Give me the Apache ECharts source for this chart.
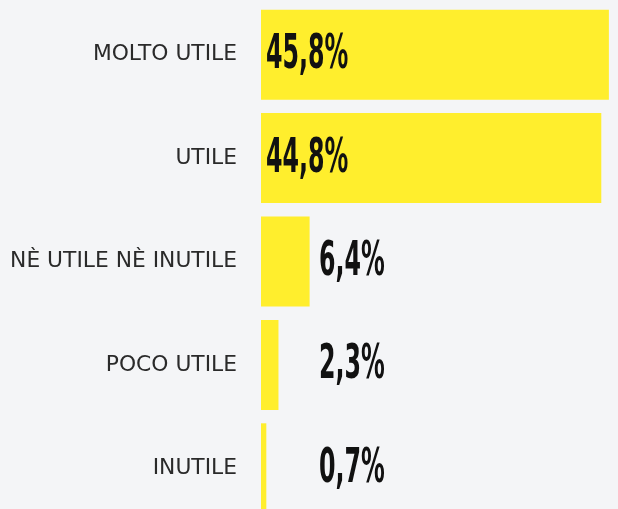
<!DOCTYPE html>
<html>
<head>
<meta charset="utf-8">
<script src="https://cdn.jsdelivr.net/npm/echarts@6/dist/echarts.min.js"></script>
<style>
  html, body { margin: 0; padding: 0; background: #f4f5f7; }
  #chart { width: 618px; height: 509px; }
</style>
</head>
<body>
<div id="chart"></div>
<script>
var categories = ['MOLTO UTILE', 'UTILE', 'NÈ UTILE NÈ INUTILE', 'POCO UTILE', 'INUTILE'];
var values = [45.8, 44.8, 6.4, 2.3, 0.7];
var valueLabels = ['45,8%', '44,8%', '6,4%', '2,3%', '0,7%'];

(function () {
    var el = document.getElementById('chart');
    var chart = echarts.init(el, null, { renderer: 'canvas' });

    // condensed value labels: drawn through a custom series so they can be squeezed
    function renderLabel(params, api) {
        var v = api.value(0);
        var idx = api.value(1);
        var start = api.coord([0, idx]);
        var x = start[0] + (v < 10 ? 58 : 5);
        return {
            type: 'text',
            x: x,
            y: start[1] + 1,
            scaleX: 0.55,
            style: {
                text: valueLabels[params.dataIndex],
                font: 'bold 48px "DejaVu Sans Condensed", "DejaVu Sans", sans-serif',
                fill: '#111111',
                align: 'left',
                verticalAlign: 'middle'
            }
        };
    }

    chart.setOption({
        backgroundColor: '#f4f5f7',
        animation: false,
        grid: { left: 261, right: 0, top: 3, bottom: -11, outerBoundsMode: 'none' },
        xAxis: {
            type: 'value',
            min: 0,
            max: 47,
            show: false
        },
        yAxis: {
            type: 'category',
            data: categories,
            inverse: true,
            axisLine: { show: false },
            axisTick: { show: false },
            splitLine: { show: false },
            axisLabel: {
                margin: 24,
                color: '#2a2a2a',
                fontSize: 21.8,
                fontFamily: '"DejaVu Sans", sans-serif',
                fontWeight: 'normal'
            }
        },
        series: [{
            type: 'bar',
            data: values,
            barWidth: 90,
            itemStyle: { color: '#ffee2d' }
        }, {
            type: 'custom',
            renderItem: renderLabel,
            encode: { x: 0, y: 1 },
            data: values.map(function (v, i) { return [v, i]; }),
            z: 5
        }]
    });
})();
</script>
</body>
</html>
